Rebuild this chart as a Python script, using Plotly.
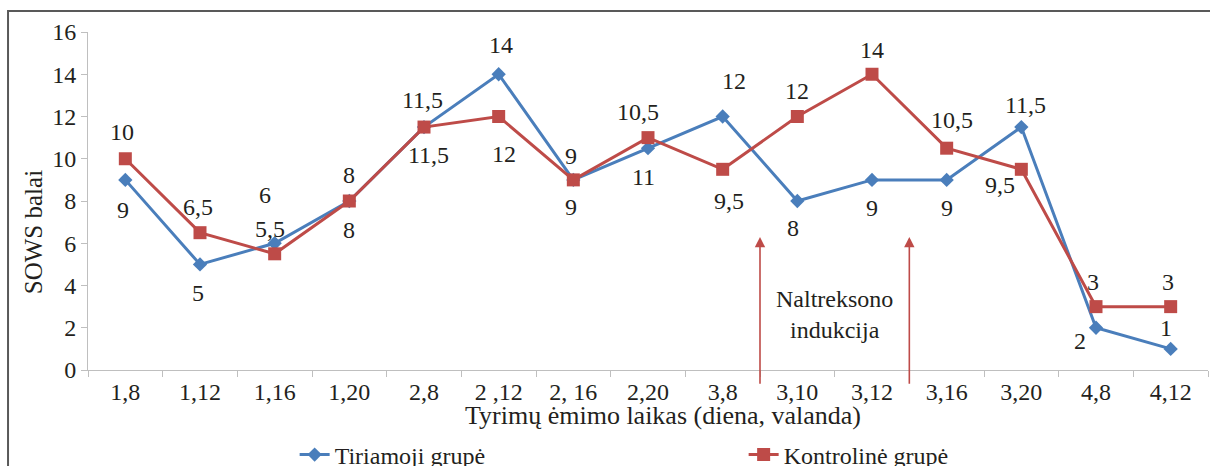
import plotly.graph_objects as go

categories = ["1,8", "1,12", "1,16", "1,20", "2,8", "2 ,12", "2, 16", "2,20",
              "3,8", "3,10", "3,12", "3,16", "3,20", "4,8", "4,12"]
tiriamoji = [9, 5, 6, 8, 11.5, 14, 9, 10.5, 12, 8, 9, 9, 11.5, 2, 1]
kontroline = [10, 6.5, 5.5, 8, 11.5, 12, 9, 11, 9.5, 12, 14, 10.5, 9.5, 3, 3]
tiriamoji_labels = ["9", "5", "6", "8", "11,5", "14", "9", "11", "12", "8", "9", "9", "11,5", "2", "1"]
kontroline_labels = ["10", "6,5", "5,5", "8", "11,5", "12", "9", "10,5", "9,5", "12", "14", "10,5", "9,5", "3", "3"]
y_ticks = [0, 2, 4, 6, 8, 10, 12, 14, 16]
arrow_positions = [8.5, 10.5]

# label offsets in pixels (style)
blue_shift = [(-2, -30), (-2, -29), (-10, 48), (0, -29), (-2, 27), (2, 29), (-2, -27), (-5, -29),
              (11, 36), (-4, -27), (0, -28), (0, -28), (4, 22), (-16, -13), (-5, 21)]
red_shift = [(-3, 27), (-2, 26), (-5, 25), (0, 26), (4, -28), (5, -37), (-2, 24), (-10, 26),
             (6, -32), (0, 26), (0, 24), (5, 28), (-21, -16), (-3, 25), (-3, 25)]

BLUE = "#4A7EBB"
RED = "#BE4B48"
TXT = "#231F20"
FONT = "Liberation Serif, DejaVu Serif, serif"

fig = go.Figure()
fig.add_trace(go.Scatter(x=categories, y=tiriamoji, name="Tiriamoji grupė", mode="lines+markers",
                         line=dict(color=BLUE, width=3),
                         marker=dict(symbol="diamond", size=11, color=BLUE)))
fig.add_trace(go.Scatter(x=categories, y=kontroline, name="Kontrolinė grupė", mode="lines+markers",
                         line=dict(color=RED, width=3),
                         marker=dict(symbol="square", size=13, color=RED)))

ann = []
for i, c in enumerate(categories):
    ann.append(dict(x=c, y=tiriamoji[i], text=tiriamoji_labels[i], showarrow=False,
                    xshift=blue_shift[i][0], yshift=blue_shift[i][1],
                    font=dict(family=FONT, size=24, color=TXT)))
    ann.append(dict(x=c, y=kontroline[i], text=kontroline_labels[i], showarrow=False,
                    xshift=red_shift[i][0], yshift=red_shift[i][1],
                    font=dict(family=FONT, size=24, color=TXT)))

for ap in arrow_positions:
    ann.append(dict(x=ap, y=6.3, ax=ap, ay=-0.72, xref="x", yref="y", axref="x", ayref="y",
                    text="", showarrow=True, arrowhead=2, arrowsize=1.3, arrowwidth=1.6,
                    arrowcolor=RED))

ann.append(dict(x=sum(arrow_positions) / 2, y=2.65, text="Naltreksono<br>indukcija", showarrow=False,
                xanchor="center", yanchor="middle",
                font=dict(family=FONT, size=24, color=TXT)))
ann.append(dict(x=-0.049, y=0.408, xref="paper", yref="paper", text="SOWS balai", textangle=-90,
                xanchor="center", yanchor="middle",
                showarrow=False, font=dict(family=FONT, size=25, color=TXT)))
ann.append(dict(x=0.5134, y=-0.134, xref="paper", yref="paper", xanchor="center", yanchor="middle",
                text="Tyrimų ėmimo laikas (diena, valanda)", showarrow=False,
                font=dict(family=FONT, size=26, color=TXT)))

fig.update_layout(
    width=1210, height=466,
    margin=dict(l=88, r=2, t=32, b=96, autoexpand=False),
    plot_bgcolor="white", paper_bgcolor="white",
    font=dict(family=FONT, size=24, color=TXT),
    annotations=ann,
    showlegend=True,
    legend=dict(orientation="h", x=0.1845, y=-0.2515, xanchor="left", yanchor="middle",
                entrywidth=404, entrywidthmode="pixels",
                font=dict(family=FONT, size=24, color=TXT), bgcolor="rgba(0,0,0,0)"),
    shapes=[dict(type="rect", xref="paper", yref="paper", x0=-0.0714, x1=1.2, y0=-0.6, y1=1.0621,
                 line=dict(color="#595959", width=2), layer="below")],
)
fig.update_xaxes(type="category", range=[-0.5, 14.5], showline=True, linecolor="#BFBFBF", linewidth=1,
                 ticks="outside", tickson="boundaries", ticklen=6, tickcolor="#BFBFBF",
                 showgrid=False, zeroline=False, tickfont=dict(family=FONT, size=24, color=TXT))
fig.update_yaxes(range=[0, 16], tickvals=y_ticks, showline=True, linecolor="#BFBFBF", linewidth=1,
                 ticks="outside", ticklen=6, tickcolor="#BFBFBF", showgrid=False, zeroline=False,
                 tickfont=dict(family=FONT, size=24, color=TXT))

fig.write_html("out.html", config={"displayModeBar": False},
               post_script="document.body.style.margin='0';document.body.style.overflow='hidden';")
